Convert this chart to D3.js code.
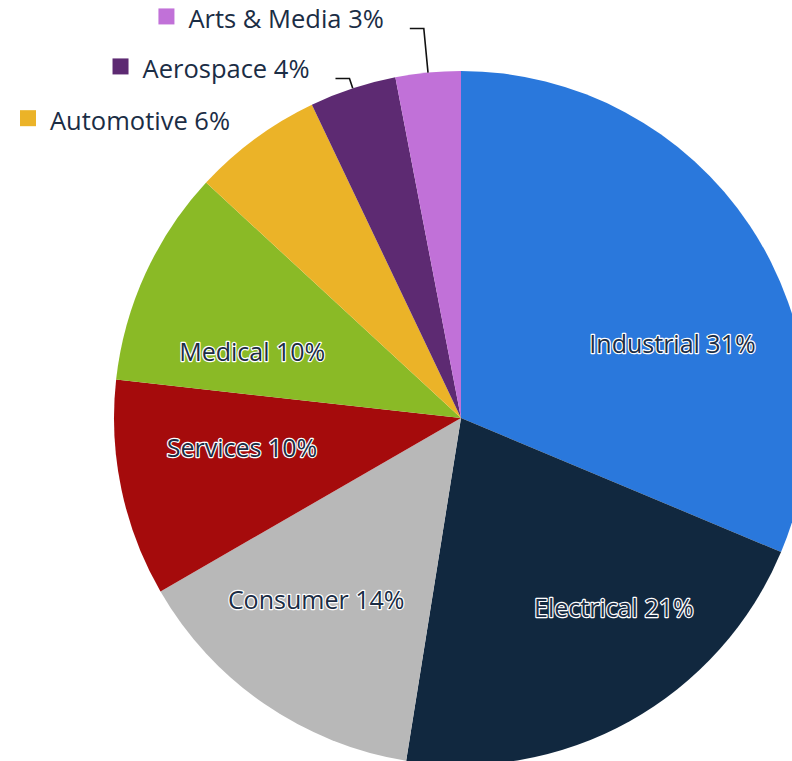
<!DOCTYPE html>
<html>
<head>
<meta charset="utf-8">
<script src="https://cdn.jsdelivr.net/npm/d3@7"></script>
<style>
  html, body { margin: 0; padding: 0; background: #ffffff; overflow: hidden; }
  svg { display: block; }
</style>
</head>
<body>
<script>
// Industry breakdown
const categories = ["Industrial", "Electrical", "Consumer", "Services", "Medical", "Automotive", "Aerospace", "Arts & Media"];
const shares = [31, 21, 14, 10, 10, 6, 4, 3];
const colors = ["#2a78dc", "#11283f", "#b8b8b8", "#a50b0c", "#8aba26", "#ebb328", "#5d2a72", "#c171d8"];

// Inside-label placement tweaks (angle shift in degrees, radius in px)
const labelAngleShift = [14.4, -9.7, 3.9, 4.0, -7.0];
const labelRadius = [224, 244, 233, 221, 219];

const W = 792, H = 761;
const cx = 461, cy = 418, R = 347;
const textColor = "#1b2d45";
const fontFamily = "'Open Sans', 'Noto Sans', sans-serif";
const insideSize = 25;
const outsideSize = 25.5;

const svg = d3.select("body").append("svg")
  .attr("width", W).attr("height", H)
  .attr("viewBox", `0 0 ${W} ${H}`);

svg.append("rect").attr("width", W).attr("height", H).attr("fill", "#ffffff");

const total = d3.sum(shares);
const data = categories.map((c, i) => ({ name: c, value: shares[i], color: colors[i], idx: i }));

const pie = d3.pie().sort(null).value(d => d.value).startAngle(0).endAngle(2 * Math.PI);
const arcs = pie(data);
const arc = d3.arc().innerRadius(0).outerRadius(R);

const g = svg.append("g").attr("transform", `translate(${cx},${cy})`);

g.selectAll("path.slice")
  .data(arcs)
  .join("path")
  .attr("class", "slice")
  .attr("d", arc)
  .attr("fill", d => d.data.color);

const pct = d => Math.round(d.data.value / total * 100) + "%";
const mid = d => (d.startAngle + d.endAngle) / 2;

// Large slices: label inside the slice
const inside = arcs.filter(d => d.data.value / total >= 0.08);
g.selectAll("text.inlabel")
  .data(inside)
  .join("text")
  .attr("class", "inlabel")
  .attr("x", (d, i) => Math.sin(mid(d) + labelAngleShift[i] * Math.PI / 180) * labelRadius[i])
  .attr("y", (d, i) => -Math.cos(mid(d) + labelAngleShift[i] * Math.PI / 180) * labelRadius[i])
  .attr("dy", "0.35em")
  .attr("text-anchor", "middle")
  .attr("font-family", fontFamily)
  .attr("font-size", insideSize)
  .attr("fill", textColor)
  .attr("stroke", "#ffffff")
  .attr("stroke-width", 2.4)
  .attr("stroke-linejoin", "round")
  .attr("paint-order", "stroke")
  .text(d => `${d.data.name} ${pct(d)}`);

// Small slices: labels outside with a colour key and a leader line
const outside = arcs.filter(d => d.data.value / total < 0.08)
  .sort((a, b) => mid(a) - mid(b));   // lowest first, stacked upward

const rowGap = 50, natR = R * 1.03;
let prevY = Infinity;
outside.forEach(d => {
  const a = mid(d);
  let y = -Math.cos(a) * natR;
  y = Math.min(y, prevY - rowGap);
  prevY = y;
  d.ly = y;
  const rr = -y / Math.cos(a);
  d.ex = Math.sin(a) * rr;
});

outside.forEach(d => {
  const a = mid(d);
  const lg = g.append("g");
  const t = lg.append("text")
    .attr("font-family", fontFamily)
    .attr("font-size", outsideSize)
    .attr("fill", textColor)
    .attr("y", d.ly)
    .text(`${d.data.name} ${pct(d)}`);
  const tw = t.node().getComputedTextLength();
  let textEnd = d.ex - 40;
  let sqX = textEnd - tw - 30;
  let shifted = false;
  const minSq = 20 - cx;
  if (sqX < minSq) { textEnd += minSq - sqX; sqX = minSq; shifted = true; }
  t.attr("x", textEnd - tw);
  lg.append("rect")
    .attr("x", sqX).attr("y", d.ly - 20)
    .attr("width", 16).attr("height", 16)
    .attr("fill", d.data.color);
  if (!shifted) {
    const edge = [Math.sin(a) * R, -Math.cos(a) * R];
    g.append("path")
      .attr("d", d3.line()([edge, [d.ex, d.ly], [d.ex - 14, d.ly]]))
      .attr("fill", "none")
      .attr("stroke", "#111111")
      .attr("stroke-width", 1.6);
  }
});
</script>
</body>
</html>
